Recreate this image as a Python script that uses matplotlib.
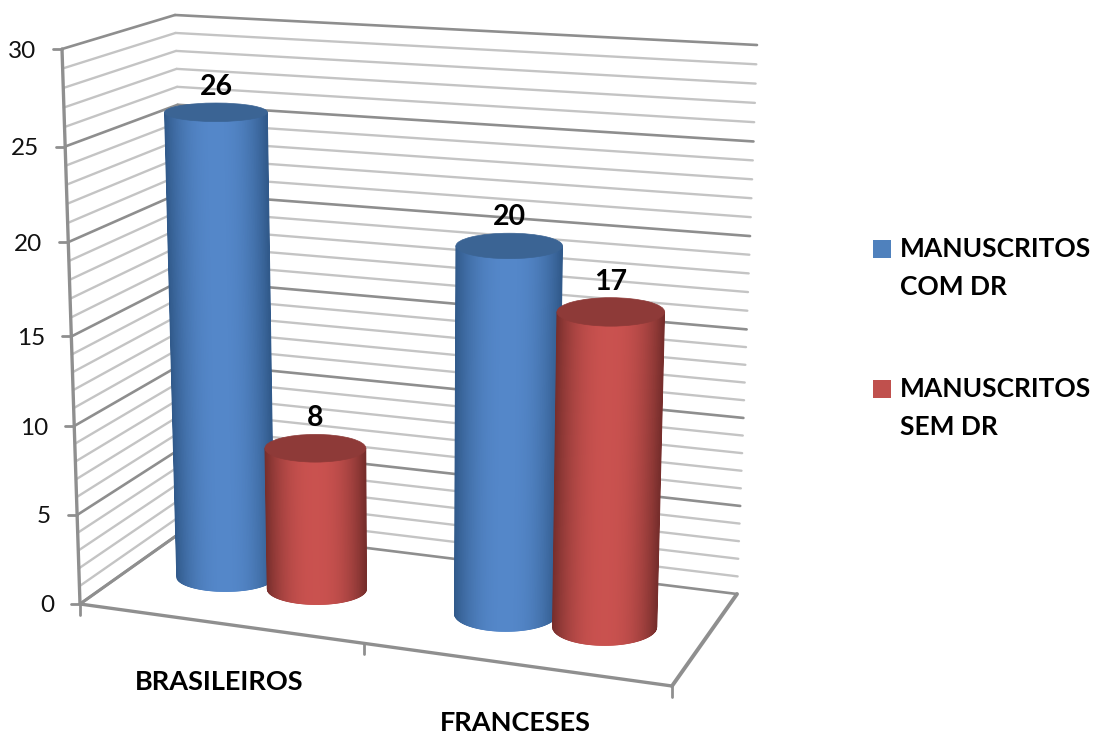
import numpy as np
import matplotlib
matplotlib.use("Agg")
import matplotlib.pyplot as plt
from matplotlib.collections import PolyCollection
from matplotlib.patches import Ellipse, Rectangle

# ---- data ----
categories = ["BRASILEIROS", "FRANCESES"]
series_names = ["MANUSCRITOS\nCOM DR", "MANUSCRITOS\nSEM DR"]
com_dr = [26, 20]
sem_dr = [8, 17]
y_ticks = [0, 5, 10, 15, 20, 25, 30]
y_minor = list(range(0, 31))

# ---- style ----
plt.rcParams["font.family"] = ["Lato", "DejaVu Sans"]
LIGHT, DARK, AXIS = "#c4c4c4", "#8e8e8e", "#8f8f8f"
EDGE = [np.array(c) for c in ((0.19, 0.35, 0.54), (0.46, 0.18, 0.17))]
MID = [np.array(c) for c in ((0.33, 0.53, 0.79), (0.79, 0.32, 0.31))]
TOPS = ["#3b6494", "#8e3a38"]
SWATCH = ["#4f81bd", "#c0504d"]

# ---- box projection (screen pixels of the 3D box corners) ----
FLB, FRB, BLB, BRB = map(np.array, ((80., 604.), (672., 686.), (190., 526.), (737., 594.)))
FLT, FRT, BLT, BRT = map(np.array, ((62., 49.), (686., 73.), (175., 15.), (757., 45.)))
persp_levels = [0.0, 0.1604, 0.3207, 0.482, 0.652, 0.8243, 1.0]


def height_frac(v):
    return np.interp(v, y_ticks, persp_levels)


def warp(u, k=0.923):
    return k * u / (1 + (k - 1) * u)


def project(u, d, v):
    uw = warp(u)
    t = height_frac(v)
    bottom = (1 - d) * ((1 - uw) * FLB + uw * FRB) + d * ((1 - uw) * BLB + uw * BRB)
    top = (1 - d) * ((1 - uw) * FLT + uw * FRT) + d * ((1 - uw) * BLT + uw * BRT)
    return (1 - t) * bottom + t * top


fig = plt.figure(figsize=(10.95, 7.35), dpi=100, facecolor="white")
ax = fig.add_axes([0, 0, 1, 1])
ax.set_xlim(0, 1095)
ax.set_ylim(735, 0)
ax.axis("off")


def seg(a, b, color, lw, z=1):
    ax.plot([a[0], b[0]], [a[1], b[1]], color=color, lw=lw, solid_capstyle="round", zorder=z)


# walls: gridlines at every unit, darker at majors
for v in y_minor:
    major = v in y_ticks
    col, lw = (DARK, 1.9) if major else (LIGHT, 1.7)
    seg(project(0, 0, v), project(0, 1, v), col, lw)
    seg(project(0, 1, v), project(1, 1, v), col, lw)

# axes frame
seg(FLT, FLB, AXIS, 2.4, 2)
seg(FLB, FRB, AXIS, 2.4, 2)
seg(FRB, BRB, AXIS, 2.8, 2)
seg(FLB, BLB, AXIS, 2.2, 2)

# value ticks and labels
for v in y_ticks:
    p = project(0, 0, v)
    seg(p, p + np.array([-9, 0]), AXIS, 2.0, 2)
    ax.text(p[0] - 26, p[1] + 2, str(v), ha="right", va="center", fontsize=17.5, color="#111111")

# category ticks and labels
for u in (0, 0.5, 1):
    p = project(u, 0, 0)
    seg(p, p + np.array([0, 11]), AXIS, 2.0, 2)
for i, name in enumerate(categories):
    p = project(0.25 + 0.5 * i, 0, 0)
    ax.text(p[0], p[1] + 59, name, ha="center", va="center", fontsize=19.5, fontweight="bold", color="black")

# cylinders
DEPTH = 0.5
GROUP_POS = [0.255, 0.754]
OFFSET_COM, OFFSET_SEM = 0.085, 0.082


def rx_of(u, t):
    return 48 + 5 * u + 3 * t


def ry_of(u, t):
    return (13.5 + 6 * u) * (1 - 0.42 * t)


def cylinder(u, value, s, z):
    c0 = project(u, DEPTH, 0)
    c1 = project(u, DEPTH, value)
    t = height_frac(value)
    r0, r1 = rx_of(u, 0), rx_of(u, t)
    ry0, ry1 = ry_of(u, 0), ry_of(u, t)
    edges = np.linspace(-1, 1, 161)
    polys, cols = [], []
    for a, b in zip(edges[:-1], edges[1:]):
        lo = lambda q: c0[1] + ry0 * np.sqrt(max(0, 1 - q * q))
        polys.append([(c1[0] + r1 * a, c1[1]), (c1[0] + r1 * b, c1[1]),
                      (c0[0] + r0 * b, lo(b)), (c0[0] + r0 * a, lo(a))])
        m = 1 - abs((a + b) / 2) ** 2.3
        cols.append(EDGE[s] + (MID[s] - EDGE[s]) * m)
    ax.add_collection(PolyCollection(polys, facecolors=cols, edgecolors=cols, linewidths=0.6, zorder=z))
    ax.add_patch(Ellipse(c1, 2 * r1, 2 * ry1, facecolor=TOPS[s], edgecolor=TOPS[s], lw=0.5, zorder=z + 0.1))
    ax.text(c1[0], c1[1] - ry1 - 16, str(value), ha="center", va="center", fontsize=20.5,
            fontweight="bold", color="black", zorder=z + 0.2)


for i in range(len(categories)):
    cylinder(GROUP_POS[i] - OFFSET_COM, com_dr[i], 0, 5 + i)
    cylinder(GROUP_POS[i] + OFFSET_SEM, sem_dr[i], 1, 5.5 + i)

# legend
LEG_Y = [249, 389]
for s, (name, y) in enumerate(zip(series_names, LEG_Y)):
    ax.add_patch(Rectangle((873, y - 9), 18, 18, facecolor=SWATCH[s], edgecolor="none", zorder=3))
    for k, line in enumerate(name.split("\n")):
        ax.text(899.5, y + 38 * k, line, ha="left", va="center", fontsize=19, fontweight="bold", color="black")

fig.savefig("out.png", dpi=100)
